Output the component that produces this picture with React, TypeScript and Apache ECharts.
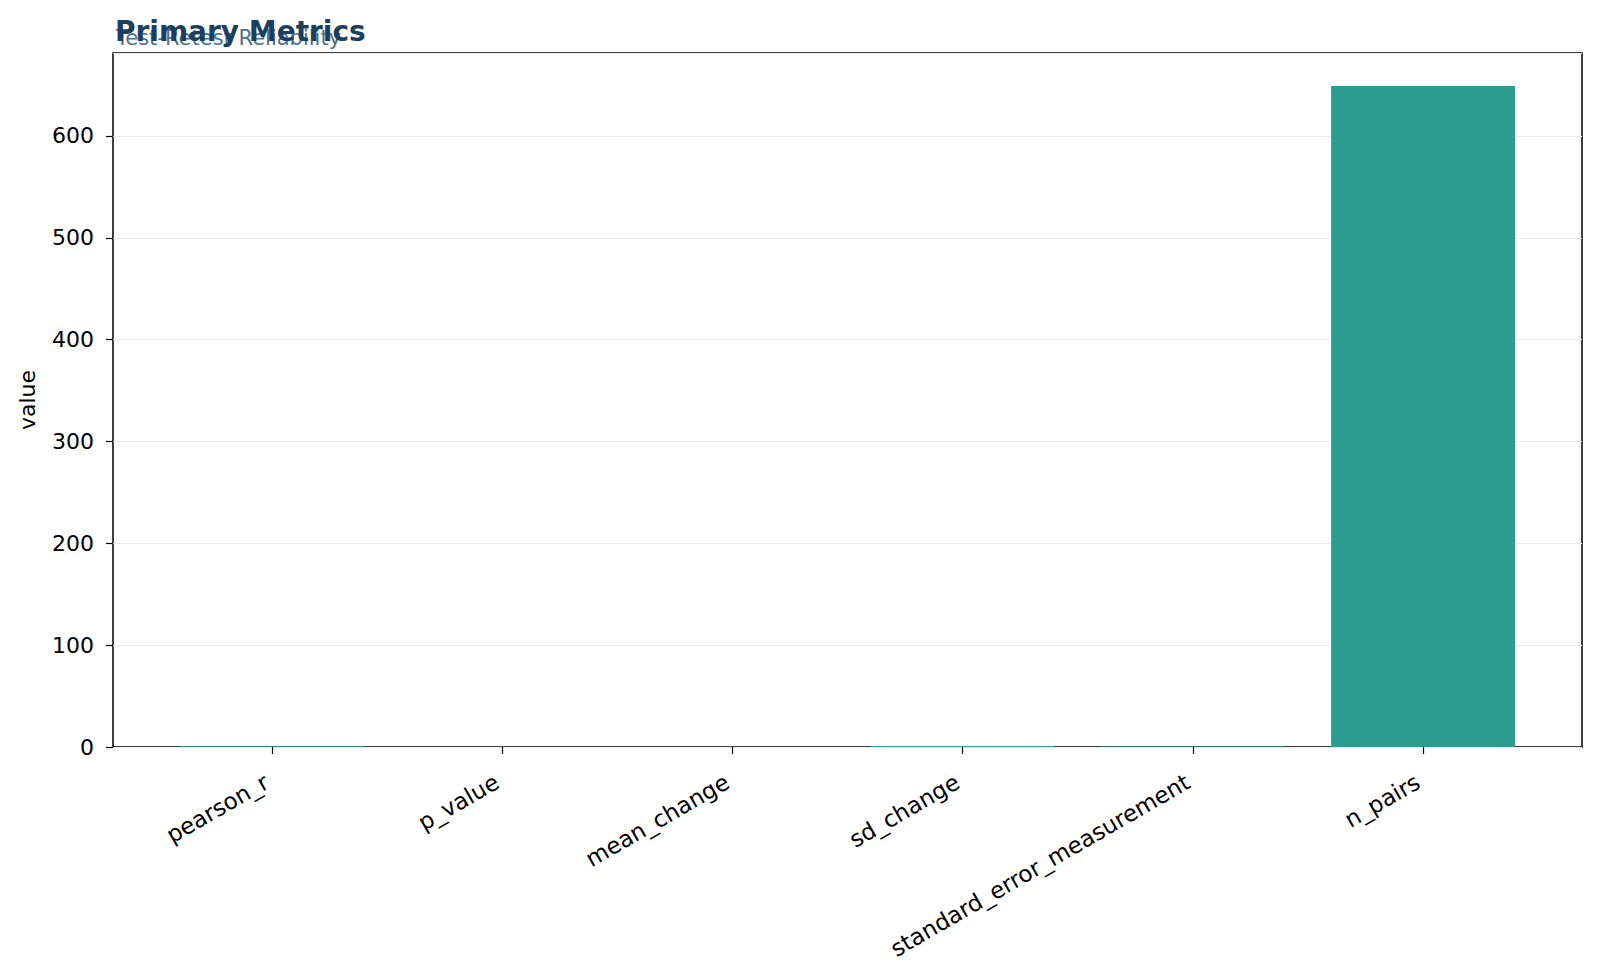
import React, { useEffect, useRef } from 'react';
import * as echarts from 'echarts';

const metrics = ['pearson_r', 'p_value', 'mean_change', 'sd_change', 'standard_error_measurement', 'n_pairs'];
const values = [0.82, 0.0, 0.03, 1.1, 0.4, 649];
const yTicks = [0, 100, 200, 300, 400, 500, 600];

const FONT = '"DejaVu Sans", sans-serif';

const App: React.FC = () => {
  const chartRef = useRef<HTMLDivElement>(null);

  useEffect(() => {
    if (!chartRef.current) return;
    const chart = echarts.init(chartRef.current, undefined, { renderer: 'svg' });

    // matplotlib style x range: bars 0.8 wide plus 5% margins
    const xMin = -0.4 - 0.05 * 5.8;
    const xMax = 5.4 + 0.05 * 5.8;
    const yMax = 649 * 1.05;

    const option = {
      animation: false,
      backgroundColor: '#ffffff',
      title: [
        {
          text: 'Test-Retest Reliability',
          left: 103,
          top: 14,
          textStyle: { fontFamily: FONT, fontSize: 21, fontWeight: 'normal', color: '#52708a' },
        },
        {
          text: 'Primary Metrics',
          left: 102,
          top: 4,
          textStyle: { fontFamily: FONT, fontSize: 28, fontWeight: 'bold', color: '#1d3f5e' },
        },
      ],
      grid: {
        left: 105,
        right: 10,
        top: 45,
        bottom: 223,
        show: true,
        borderColor: '#000000',
        borderWidth: 1.5,
        backgroundColor: 'transparent',
      },
      xAxis: {
        type: 'value',
        min: xMin,
        max: xMax,
        splitLine: { show: false },
        axisLine: { show: false, onZero: false },
        axisTick: {
          show: true,
          customValues: [0, 1, 2, 3, 4, 5],
          length: 7,
          lineStyle: { color: '#000000', width: 1.2 },
        },
        axisLabel: {
          customValues: [0, 1, 2, 3, 4, 5],
          formatter: (v: number) => metrics[Math.round(v)] ?? '',
          rotate: 30,
          margin: 30,
          padding: [0, 6, 0, 0],
          fontFamily: FONT,
          fontSize: 23,
          color: '#000000',
        },
      },
      yAxis: {
        type: 'value',
        min: 0,
        max: yMax,
        interval: 100,
        name: 'value',
        nameLocation: 'middle',
        nameGap: 75,
        nameTextStyle: { fontFamily: FONT, fontSize: 22, color: '#000000' },
        axisLine: { show: false, onZero: false },
        axisTick: { show: true, length: 7, lineStyle: { color: '#000000', width: 1.2 } },
        axisLabel: {
          showMaxLabel: false,
          margin: 19,
          fontFamily: FONT,
          fontSize: 22,
          color: '#000000',
          formatter: (v: number) => (yTicks.includes(v) ? String(v) : ''),
        },
        splitLine: { show: true, lineStyle: { color: '#ebebeb', width: 1.2 } },
      },
      series: [
        {
          type: 'bar',
          data: values.map((v, i) => [i, v]),
          barWidth: 184,
          itemStyle: { color: '#2a9d8f', opacity: 1 },
        },
      ],
    };

    chart.setOption(option);
    return () => {
      chart.dispose();
    };
  }, []);

  return <div ref={chartRef} style={{ width: '1584px', height: '962px' }} />;
};

export default App;
